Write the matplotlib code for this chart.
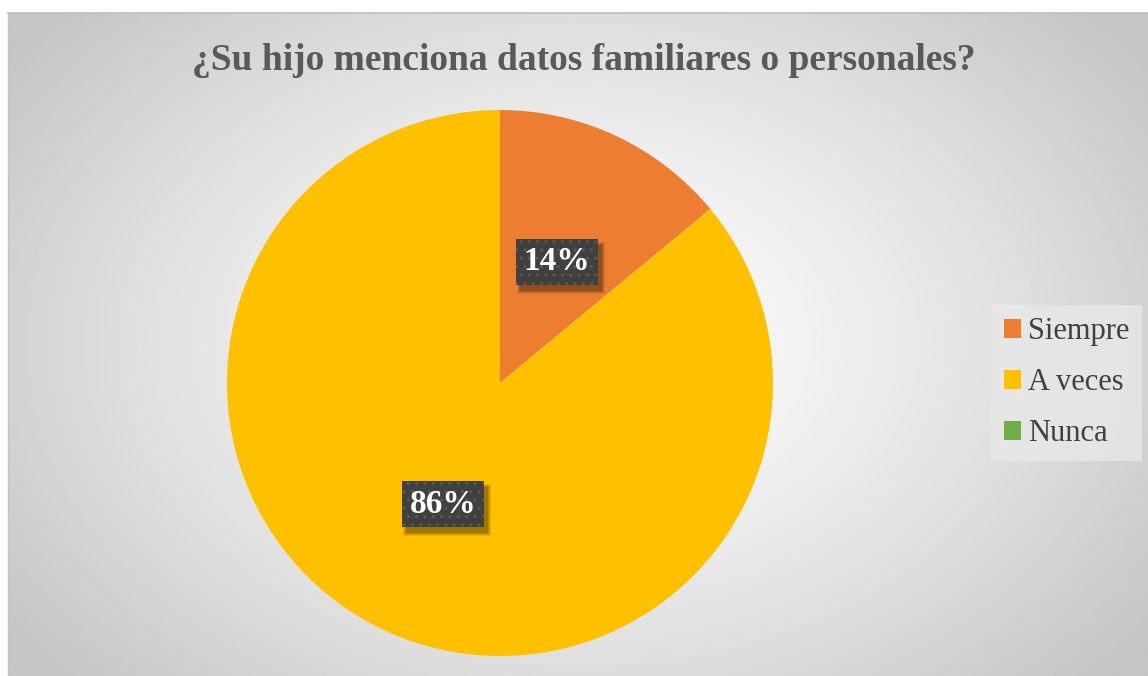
import numpy as np
import matplotlib.pyplot as plt
from matplotlib.patches import Rectangle

labels = ['Siempre', 'A veces', 'Nunca']
values = [14, 86, 0]
colors = ['#ED7D31', '#FFC000', '#70AD47']
title = '¿Su hijo menciona datos familiares o personales?'

plt.rcParams['font.family'] = ['Liberation Serif', 'DejaVu Serif']

W, H = 1148, 676
fig = plt.figure(figsize=(W / 100, H / 100), dpi=100)

# chart area with radial gradient
x0, y0 = 8 / W, 0.0
bg = fig.add_axes([x0, y0, 1 - x0, (H - 13) / H], zorder=0)
gx, gy = np.meshgrid(np.linspace(0, 1, 400), np.linspace(0, 1, 300))
d = np.sqrt(((gx - 0.5) / 0.62) ** 2 + ((gy - 0.5) / 0.75) ** 2)
shade = 1.0 - 0.23 * np.clip(d, 0, 1) ** 1.3
bg.imshow(shade, cmap='gray', vmin=0, vmax=1, aspect='auto', extent=[0, 1, 0, 1])
bg.set_xlim(0, 1)
bg.set_ylim(0, 1)
bg.axis('off')
fig.add_artist(plt.Line2D([x0, 1], [(H - 13) / H] * 2, color='#BDBDBD', lw=1.2))
fig.add_artist(plt.Line2D([x0, x0], [0, (H - 13) / H], color='#C4C4C4', lw=1.0))

# pie
r = 273
cx, cy = 500, 383
ax = fig.add_axes([(cx - r) / W, (H - cy - r) / H, 2 * r / W, 2 * r / H], zorder=1)
ax.set_facecolor('none')

wedges, texts = ax.pie(values, colors=colors, startangle=90, counterclock=False,
                       radius=1, wedgeprops=dict(linewidth=0))[:2]
ax.set_xlim(-1, 1)
ax.set_ylim(-1, 1)
ax.set_aspect('auto')

total = sum(values)
start = 90.0
pct_texts = []
for v in values:
    if v == 0:
        continue
    mid = np.deg2rad(start - 360 * v / total / 2)
    start -= 360 * v / total
    px, py = 0.49 * np.cos(mid), 0.49 * np.sin(mid)
    s = f'{v / total * 100:.0f}%'
    t = ax.text(px, py, s, ha='center', va='center', fontsize=24, fontweight='bold',
                color='white', zorder=5,
                bbox=dict(boxstyle='square,pad=0.22', facecolor='#404040', edgecolor='#595959',
                          linewidth=0, hatch='..'))
    pct_texts.append(t)

fig.text(584 / W, 1 - 60 / H, title, ha='center', va='center', fontsize=27,
         fontweight='bold', color='#595959')

leg = fig.legend(wedges, labels, loc='center left', bbox_to_anchor=(991 / W, 1 - 383 / H),
                 fontsize=22, frameon=True, handlelength=0.55, handleheight=0.55,
                 handletextpad=0.25, labelspacing=0.72, borderpad=0.42, borderaxespad=0,
                 fancybox=False, labelcolor='#404040')
leg.get_frame().set_facecolor('#E8E8E8')
leg.get_frame().set_edgecolor('none')
leg.get_frame().set_alpha(0.8)

# soft drop shadow under the label boxes
fig.canvas.draw()
rend = fig.canvas.get_renderer()
for t in pct_texts:
    bb = t.get_bbox_patch().get_window_extent(rend)
    for k, a in [(3, 0.08), (2, 0.1), (1, 0.12), (0, 0.14)]:
        rect = Rectangle((bb.x0 + 4 - k, bb.y0 - 6 - k), bb.width + 2 * k, bb.height + 2 * k,
                         transform=None, facecolor='black', alpha=a, linewidth=0, zorder=4)
        ax.add_artist(rect)

fig.savefig('out.png', dpi=100)
